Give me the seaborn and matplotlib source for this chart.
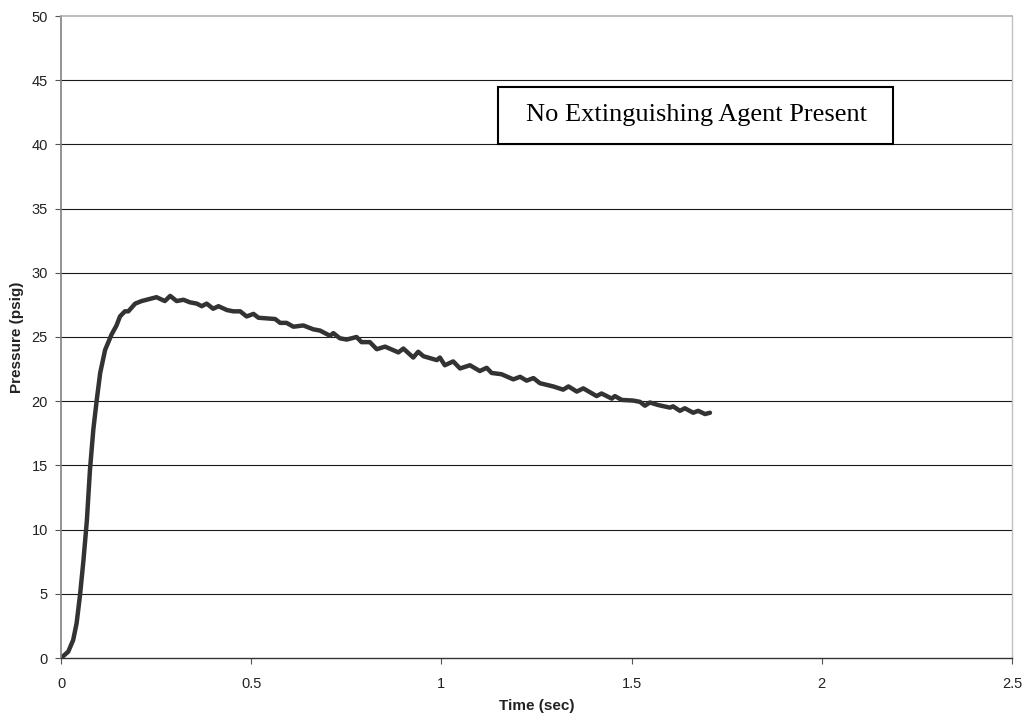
import matplotlib
matplotlib.use("Agg")
import matplotlib.pyplot as plt
import seaborn as sns
import pandas as pd
from matplotlib.patches import Rectangle

time_sec = [0, 0.019, 0.032, 0.041, 0.050, 0.059, 0.068, 0.076, 0.085, 0.094,
            0.103, 0.116, 0.133, 0.146, 0.155, 0.168, 0.177, 0.195, 0.212, 0.238,
            0.251, 0.273, 0.287, 0.304, 0.322, 0.339, 0.357, 0.370, 0.383, 0.400,
            0.414, 0.436, 0.453, 0.471, 0.488, 0.506, 0.519, 0.541, 0.563, 0.576,
            0.593, 0.611, 0.637, 0.663, 0.681, 0.707, 0.716, 0.733, 0.751, 0.777,
            0.790, 0.812, 0.830, 0.852, 0.887, 0.900, 0.926, 0.939, 0.953, 0.988,
            0.996, 1.009, 1.031, 1.049, 1.075, 1.101, 1.119, 1.132, 1.158, 1.189,
            1.207, 1.224, 1.242, 1.259, 1.294, 1.320, 1.334, 1.356, 1.373, 1.408,
            1.421, 1.448, 1.456, 1.474, 1.504, 1.522, 1.535, 1.548, 1.570, 1.601,
            1.609, 1.627, 1.640, 1.662, 1.675, 1.693, 1.706]
pressure_psig = [0, 0.49, 1.4, 2.7, 4.9, 7.6, 10.7, 14.6, 17.8, 20.1,
                 22.2, 24.0, 25.2, 25.9, 26.6, 27.0, 27.0, 27.6, 27.8, 28.0,
                 28.1, 27.8, 28.2, 27.8, 27.9, 27.7, 27.6, 27.4, 27.6, 27.2,
                 27.4, 27.1, 27.0, 27.0, 26.6, 26.8, 26.5, 26.45, 26.4, 26.1,
                 26.1, 25.8, 25.9, 25.6, 25.5, 25.1, 25.3, 24.9, 24.8, 25.0,
                 24.6, 24.6, 24.05, 24.25, 23.8, 24.1, 23.4, 23.85, 23.5, 23.2,
                 23.4, 22.8, 23.1, 22.55, 22.8, 22.35, 22.6, 22.2, 22.1, 21.7,
                 21.9, 21.6, 21.8, 21.4, 21.15, 20.9, 21.15, 20.75, 21.0, 20.4,
                 20.6, 20.2, 20.4, 20.1, 20.05, 19.95, 19.65, 19.9, 19.7, 19.5,
                 19.6, 19.25, 19.45, 19.1, 19.25, 19.0, 19.1]
x_ticks = [0, 0.5, 1, 1.5, 2, 2.5]
x_tick_labels = ["0", "0.5", "1", "1.5", "2", "2.5"]
y_ticks = [0, 5, 10, 15, 20, 25, 30, 35, 40, 45, 50]
annotation = "No Extinguishing Agent Present"

sns.set_theme(style="white")
plt.rcParams['font.family'] = ['Liberation Sans', 'DejaVu Sans']

df = pd.DataFrame({"Time (sec)": time_sec, "Pressure (psig)": pressure_psig})

fig = plt.figure(figsize=(10.26, 7.2), dpi=100)
W, H = 1026, 720
ax = fig.add_axes([61 / W, (H - 658) / H, (1012 - 61) / W, (658 - 16) / H])

sns.lineplot(data=df, x="Time (sec)", y="Pressure (psig)", ax=ax,
             color="#333333", linewidth=3.2, sort=False, estimator=None)

ax.set_xlim(0, 2.5)
ax.set_ylim(0, 50)
ax.set_xticks(x_ticks)
ax.set_xticklabels(x_tick_labels)
ax.set_yticks(y_ticks)
ax.tick_params(axis="both", bottom=True, left=True, labelsize=10.5,
               labelcolor="#222222", color="#555555", length=4.5, width=0.8,
               direction="out")
ax.tick_params(axis="x", pad=9.5)
ax.tick_params(axis="y", pad=5)

for v in y_ticks[1:-1]:
    ax.axhline(v, color="#1a1a1a", linewidth=0.8, zorder=1)

ax.spines["left"].set_color("#808080")
ax.spines["left"].set_linewidth(1.2)
ax.spines["bottom"].set_color("#333333")
ax.spines["bottom"].set_linewidth(1.0)
ax.spines["top"].set_color("#b0b0b0")
ax.spines["top"].set_linewidth(1.2)
ax.spines["right"].set_color("#c0c0c0")
ax.spines["right"].set_linewidth(1.0)

ax.set_xlabel("Time (sec)", fontsize=11, fontweight="bold", color="#222222")
ax.set_ylabel("Pressure (psig)", fontsize=11, fontweight="bold", color="#222222")
ax.xaxis.set_label_coords(0.5, (658 - 699) / 642)
ax.yaxis.set_label_coords((24 - 61) / 951, 0.5)

rect = Rectangle((498 / W, (H - 144) / H), 395 / W, 57 / H, transform=fig.transFigure,
                 facecolor="white", edgecolor="black", linewidth=1.5, zorder=5)
fig.add_artist(rect)
fig.text(696 / W, (H - 115.5) / H, annotation, ha="center", va="center",
         fontsize=19, family="Liberation Serif", color="black", zorder=6)

fig.savefig("out.png", dpi=100)
